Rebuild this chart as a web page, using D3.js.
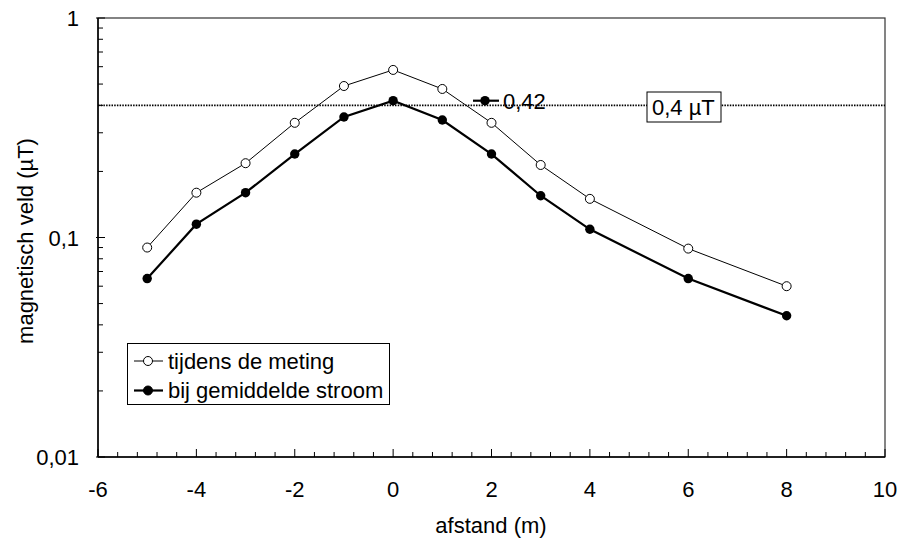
<!DOCTYPE html>
<html><head><meta charset="utf-8">
<script src="https://cdn.jsdelivr.net/npm/d3@7"></script>
<style>body{margin:0;background:#fff}svg{display:block}text{font-family:"Liberation Sans",Arial,sans-serif}</style>
</head><body><svg id="c" width="902" height="541"></svg>
<script>
const afstand = [-5,-4,-3,-2,-1,0,1,2,3,4,6,8];
const tijdensMeting = [0.09,0.16,0.218,0.333,0.49,0.58,0.475,0.333,0.214,0.15,0.089,0.060];
const gemiddeldeStroom = [0.065,0.115,0.16,0.24,0.354,0.42,0.343,0.24,0.155,0.109,0.065,0.044];
const xTicks = [-6,-4,-2,0,2,4,6,8,10];
const yTicks = [0.01,0.1,1];
const yTickLabels = ["0,01","0,1","1"];
const limit = 0.4, limitLabel = "0,4 µT";
const peakLabel = "0,42";

const FS = 22;
const svg = d3.select("#c");
const L=98,R=885,T=18,B=457;
const x = d3.scaleLinear().domain([-6,10]).range([L,R]);
const y = d3.scaleLog().domain([0.01,1]).range([B,T]);

// frame
svg.append("rect").attr("x",L).attr("y",T).attr("width",R-L).attr("height",B-T)
  .attr("fill","none").attr("stroke","#333").attr("stroke-width",1.2);

// x ticks (minor every 0.4, major every 2)
const xMinor = d3.range(-6,10.001,0.4).map(v=>+v.toFixed(2));
svg.append("g").selectAll("line").data(xMinor).join("line")
  .attr("x1",d=>x(d)).attr("x2",d=>x(d)).attr("y1",B).attr("y2",d=>Math.abs(d/2-Math.round(d/2))<1e-6?B-8:B-5)
  .attr("stroke","#000").attr("stroke-width",1);
// y ticks
const yMinor=[];
for(const dec of [0.01,0.1]) for(let k=2;k<=9;k++) yMinor.push(dec*k);
svg.append("g").selectAll("line").data(yMinor).join("line")
  .attr("x1",L).attr("x2",L+5).attr("y1",d=>y(d)).attr("y2",d=>y(d)).attr("stroke","#000");
svg.append("g").selectAll("line").data(yTicks).join("line")
  .attr("x1",L-2).attr("x2",L+7).attr("y1",d=>y(d)).attr("y2",d=>y(d)).attr("stroke","#000");

// axes lines
svg.append("line").attr("x1",L).attr("x2",L).attr("y1",T).attr("y2",B).attr("stroke","#000").attr("stroke-width",1.5);
svg.append("line").attr("x1",L).attr("x2",R).attr("y1",B).attr("y2",B).attr("stroke","#000").attr("stroke-width",1.5);

// tick labels
svg.append("g").selectAll("text").data(xTicks).join("text")
  .attr("x",d=>x(d)).attr("y",497).attr("text-anchor","middle").attr("font-size",FS).text(d=>d);
svg.append("g").selectAll("text").data(yTicks).join("text")
  .attr("x",79).attr("y",d=>y(d)+8).attr("text-anchor","end").attr("font-size",FS).text((d,i)=>yTickLabels[i]);

// axis titles
svg.append("text").attr("x",491).attr("y",533).attr("text-anchor","middle").attr("font-size",FS).text("afstand (m)");
svg.append("text").attr("transform",`translate(33,241) rotate(-90)`).attr("text-anchor","middle").attr("font-size",FS).text("magnetisch veld (µT)");

// limit line
svg.append("line").attr("x1",L).attr("x2",R).attr("y1",y(limit)).attr("y2",y(limit))
  .attr("stroke","#000").attr("stroke-width",1.6).attr("stroke-dasharray","1.5,1.2");
const bx=647,bw=74;
svg.append("rect").attr("x",bx).attr("y",92).attr("width",bw).attr("height",30).attr("fill","#fff").attr("stroke","#000");
svg.append("text").attr("x",bx+5).attr("y",115).attr("font-size",FS).text(limitLabel);

// series
const line = d3.line().x((d,i)=>x(afstand[i])).y(d=>y(d));
svg.append("path").datum(tijdensMeting).attr("d",line).attr("fill","none").attr("stroke","#000").attr("stroke-width",1);
svg.append("path").datum(gemiddeldeStroom).attr("d",line).attr("fill","none").attr("stroke","#000").attr("stroke-width",2.2);
svg.append("g").selectAll("circle").data(tijdensMeting).join("circle")
  .attr("cx",(d,i)=>x(afstand[i])).attr("cy",d=>y(d)).attr("r",4.5).attr("fill","#fff").attr("stroke","#000").attr("stroke-width",1);
svg.append("g").selectAll("circle").data(gemiddeldeStroom).join("circle")
  .attr("cx",(d,i)=>x(afstand[i])).attr("cy",d=>y(d)).attr("r",4.7).attr("fill","#000");

// peak annotation
const py = y(gemiddeldeStroom[5]);
svg.append("line").attr("x1",473).attr("x2",499).attr("y1",py).attr("y2",py).attr("stroke","#000").attr("stroke-width",2.2);
svg.append("circle").attr("cx",485).attr("cy",py).attr("r",4.7).attr("fill","#000");
svg.append("text").attr("x",503).attr("y",py+8).attr("font-size",FS).text(peakLabel);

// legend
const lg = svg.append("g");
lg.append("rect").attr("x",127.5).attr("y",343.5).attr("width",262).attr("height",61).attr("fill","#fff").attr("stroke","#000");
const items=[{t:"tijdens de meting",fill:"#fff",w:1},{t:"bij gemiddelde stroom",fill:"#000",w:2.2}];
items.forEach((it,i)=>{
  const yy=361+i*29.5;
  lg.append("line").attr("x1",134).attr("x2",163).attr("y1",yy).attr("y2",yy).attr("stroke","#000").attr("stroke-width",it.w);
  lg.append("circle").attr("cx",148).attr("cy",yy).attr("r",4.5).attr("fill",it.fill).attr("stroke","#000");
  lg.append("text").attr("x",168).attr("y",yy+7.5).attr("font-size",FS).text(it.t);
});
</script></body></html>
